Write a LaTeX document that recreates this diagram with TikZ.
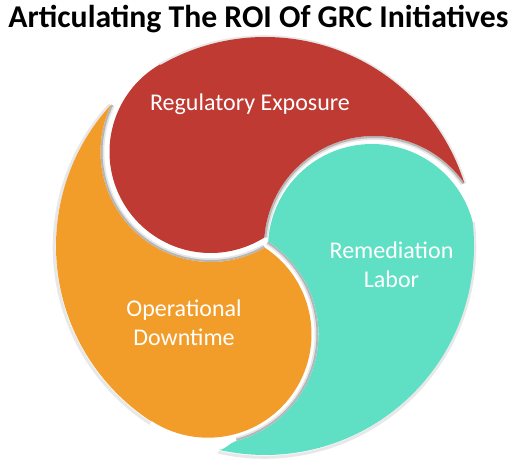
\documentclass[tikz,border=0pt]{standalone}
\usepackage{fontspec}
\setmainfont{Carlito}
\usetikzlibrary{calc}
\definecolor{redP}{RGB}{190,58,50}
\definecolor{tealP}{RGB}{95,224,197}
\definecolor{orangeP}{RGB}{242,157,42}
\begin{document}
\begin{tikzpicture}[x=1pt,y=1pt,
  shadeA/.style={draw=black,opacity=0.28,line width=2pt},
  shadeB/.style={draw=black,opacity=0.10,line width=2pt},
  outshade/.style={draw=black,opacity=0.09,line width=3pt},
  lbl/.style={text=white,font=\fontsize{24}{29}\selectfont,align=center,inner sep=0pt},
  ttl/.style={font=\bfseries\fontsize{31.7}{38}\selectfont,anchor=base,inner sep=0pt}]
\useasboundingbox (0,0) rectangle (521,-462);
\coordinate (O) at (265,-246);
\coordinate (OS) at (264.5,-247);    % shadow centre, slightly offset
\coordinate (RE) at (374,-246);      % red concave edge centre
\coordinate (TE) at (372,-248);      % teal head centre
\coordinate (CB) at (208,-334.2);    % orange head centre
\coordinate (CC) at (210.6,-151.9);  % red head centre
% soft shadow along the outer arcs
\draw[outshade] ($(OS)+(17.57:210.3)$) arc[start angle=17.57,end angle=120,radius=210.3];
\draw[outshade] ($(OS)+(6.77:210.3)$) arc[start angle=6.77,end angle=-102.7,radius=210.3];
\draw[outshade] ($(OS)+(137.4:210.3)$) arc[start angle=137.4,end angle=237.1,radius=210.3];
% shading in the white gaps, along the concave edges
\draw[shadeA] ($(RE)+(175.6:109)$) arc[start angle=175.6,end angle=35,radius=109];
\draw[shadeB] ($(RE)+(175.6:107.2)$) arc[start angle=175.6,end angle=35,radius=107.2];
\draw[shadeA] ($(CB)+(57:109.5)$) arc[start angle=57,end angle=-75,radius=109.5];
\draw[shadeB] ($(CB)+(57:107.7)$) arc[start angle=57,end angle=-75,radius=107.7];
\draw[shadeA] ($(CC)+(-60.5:109.1)$) arc[start angle=-60.5,end angle=-205.5,radius=109.1];
\draw[shadeB] ($(CC)+(-60.5:107.3)$) arc[start angle=-60.5,end angle=-205.5,radius=107.3];
% red piece
\fill[redP] ($(O)+(17.57:209)$) arc[start angle=17.57,end angle=120,radius=209]
  -- ($(CC)+(120:101.1)$) arc[start angle=120,end angle=302,radius=101.1]
  -- ($(RE)+(175.6:110)$) arc[start angle=175.6,end angle=35,radius=110] -- cycle;
% teal piece
\fill[tealP] ($(TE)+(176.4:104)$) arc[start angle=176.4,end angle=14.9,radius=104]
  -- ($(O)+(6.77:209)$) arc[start angle=6.77,end angle=-102.7,radius=209]
  .. controls (226.9,-448.9) and (228.9,-443.0) .. ($(CB)+(-75:110.5)$)
  arc[start angle=-75,end angle=57,radius=110.5] -- cycle;
% orange piece
\fill[orangeP] ($(O)+(137.4:209)$) arc[start angle=137.4,end angle=237.1,radius=209]
  -- ($(CB)+(237.1:103.5)$) arc[start angle=237.1,end angle=416.7,radius=103.5]
  -- ($(CC)+(-60.5:110.1)$) arc[start angle=-60.5,end angle=-205.5,radius=110.1] -- cycle;
% texts
\node[ttl] (title) at (258.5,-28) {Articulating The ROI Of GRC Initiatives};
\node[lbl] (reg) at (250,-104) {Regulatory Exposure};
\node[lbl] (rem) at (391.5,-264.5) {Remediation\\Labor};
\node[lbl] (ops) at (184,-322.5) {Operational\\Downtime};
\end{tikzpicture}
\end{document}
